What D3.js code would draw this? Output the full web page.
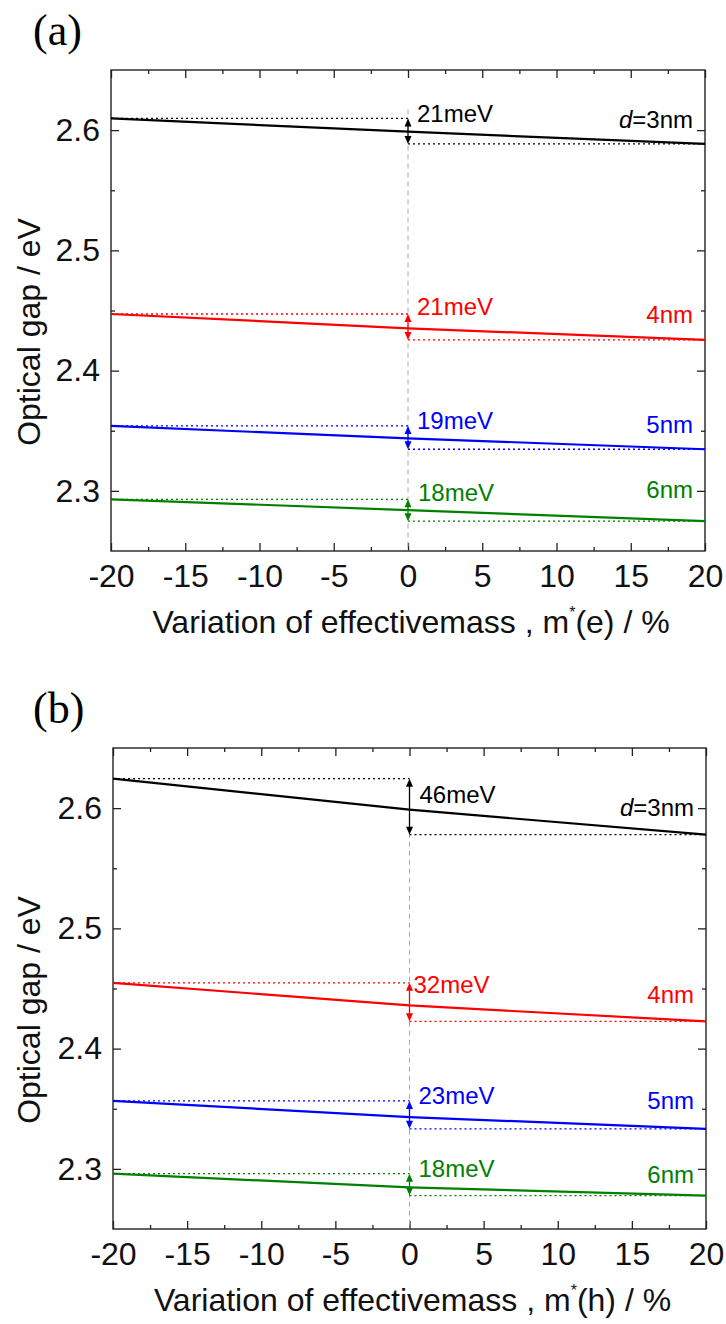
<!DOCTYPE html>
<html>
<head>
<meta charset="utf-8">
<script src="https://cdn.jsdelivr.net/npm/d3@7"></script>
<style>
  body { margin: 0; background: #fff; }
  svg text { font-family: "Liberation Sans", Arial, sans-serif; }
</style>
</head>
<body>
<svg id="chart" width="726" height="1324"></svg>
<script>
// Values: optical gap (eV) at -20 %, 0 %, +20 % mass variation.
const massVariation = [-20, 0, 20];
const sizeNames = ["3nm", "4nm", "5nm", "6nm"];

const gapElectron = [
    [2.6097, 2.5987, 2.5885],
    [2.4471, 2.4352, 2.4255],
    [2.3540, 2.3437, 2.3346],
    [2.2930, 2.2840, 2.2748]
];
const gapHole = [
    [2.6245, 2.5987, 2.5779],
    [2.4547, 2.4359, 2.4227],
    [2.3565, 2.3431, 2.3333],
    [2.2960, 2.2846, 2.2778]
];
const deltaElectron = ["21meV", "21meV", "19meV", "18meV"];
const deltaHole = ["46meV", "32meV", "23meV", "18meV"];

const xTicks = [-20, -15, -10, -5, 0, 5, 10, 15, 20];
const xMinorTicks = [-17.5, -12.5, -7.5, -2.5, 2.5, 7.5, 12.5, 17.5];
const yTicks = [2.3, 2.4, 2.5, 2.6];
const yMinorTicks = [2.35, 2.45, 2.55];

// Styles and hand placement of the annotations (pixels).
const lineColors = ["#000000", "#ff0000", "#0000ff", "#008000"];


const svg = d3.select("#chart");

drawPanel({
    letter: "(a)", carrier: "e",
    top: 70, bottom: 551, left: 111, right: 705,
    gaps: gapElectron, deltas: deltaElectron,
    sizeLift: [16, 17, 16, 23],
    deltaDrop: [4, 1, 3, 2],
    deltaShift: [9, 9, 9, 10],
    dashAbove: 9
});

drawPanel({
    letter: "(b)", carrier: "h",
    top: 748, bottom: 1229, left: 113, right: 706,
    gaps: gapHole, deltas: deltaHole,
    sizeLift: [19, 18, 20, 13],
    deltaDrop: [24, 10, 3, 3],
    deltaShift: [10, 4, 9, 9],
    dashAbove: 0
});


function drawPanel(p) {
    const xScale = d3.scaleLinear().domain([-20, 20]).range([p.left, p.right]);
    const yScale = d3.scaleLinear().domain([2.25, 2.65]).range([p.bottom, p.top]);
    const g = svg.append("g");

    // Panel letter
    svg.append("text")
        .attr("x", 33)
        .attr("y", p.top - 25)
        .style("font-family", "'Liberation Serif', 'Times New Roman', serif")
        .style("font-size", "44px")
        .text(p.letter);

    // Axes (inward ticks on all four sides)
    const addAxis = (axis, transform, isLabeled) => {
        const a = g.append("g").attr("transform", transform).call(axis);
        a.select(".domain").remove();
        a.selectAll(".tick line").attr("stroke", "#222").attr("stroke-width", 1.3);
        if (!isLabeled) a.selectAll(".tick text").remove();
        return a;
    };

    const bottomAxis = addAxis(d3.axisBottom(xScale).tickValues(xTicks).tickSize(-8).tickPadding(13)
        .tickFormat(d => String(d)), `translate(0,${p.bottom})`, true);
    addAxis(d3.axisBottom(xScale).tickValues(xMinorTicks).tickSize(-4), `translate(0,${p.bottom})`, false);
    addAxis(d3.axisTop(xScale).tickValues(xTicks).tickSize(-8), `translate(0,${p.top})`, false);
    addAxis(d3.axisTop(xScale).tickValues(xMinorTicks).tickSize(-4), `translate(0,${p.top})`, false);

    const leftAxis = addAxis(d3.axisLeft(yScale).tickValues(yTicks).tickSize(-8).tickPadding(11)
        .tickFormat(d3.format(".1f")), `translate(${p.left},0)`, true);
    addAxis(d3.axisLeft(yScale).tickValues(yMinorTicks).tickSize(-4), `translate(${p.left},0)`, false);
    addAxis(d3.axisRight(yScale).tickValues(yTicks).tickSize(-8), `translate(${p.right},0)`, false);
    addAxis(d3.axisRight(yScale).tickValues(yMinorTicks).tickSize(-4), `translate(${p.right},0)`, false);

    [bottomAxis, leftAxis].forEach(a => a.selectAll(".tick text")
        .attr("fill", "#111")
        .style("font-family", "'Liberation Sans', Arial, sans-serif")
        .style("font-size", "32px"));

    g.append("rect")
        .attr("x", p.left).attr("y", p.top)
        .attr("width", p.right - p.left).attr("height", p.bottom - p.top)
        .attr("fill", "none").attr("stroke", "#222").attr("stroke-width", 1.4);

    // Axis titles
    const xTitle = svg.append("text")
        .attr("x", (p.left + p.right) / 2 + 3)
        .attr("y", p.bottom + 82)
        .attr("text-anchor", "middle")
        .attr("fill", "#111")
        .style("font-size", "32px");
    xTitle.append("tspan").text("Variation of effectivemass , m");
    xTitle.append("tspan").attr("dy", -15).style("font-size", "16px").text("*");
    xTitle.append("tspan").attr("dy", 15).text(`(${p.carrier}) / %`);

    svg.append("text")
        .attr("transform", `translate(40,${p.top + 262}) rotate(-90)`)
        .attr("text-anchor", "middle")
        .attr("fill", "#111")
        .style("font-size", "32px")
        .text("Optical gap / eV");

    // Gray dashed guide at 0 %
    const topGap = p.gaps[0][0];
    g.append("line")
        .attr("x1", xScale(0)).attr("x2", xScale(0))
        .attr("y1", yScale(topGap) - p.dashAbove).attr("y2", p.bottom)
        .attr("stroke", "#aaa").attr("stroke-width", 1)
        .attr("stroke-dasharray", "5,4");

    const line = d3.line()
        .x((d, i) => xScale(massVariation[i]))
        .y(d => yScale(d));

    p.gaps.forEach((values, k) => {
        const color = lineColors[k];
        const first = values[0];
        const last = values[values.length - 1];

        // Reference levels (dotted)
        g.append("line")
            .attr("x1", xScale(-20)).attr("x2", xScale(0))
            .attr("y1", yScale(first)).attr("y2", yScale(first))
            .attr("stroke", color).attr("stroke-width", 1.3)
            .attr("stroke-dasharray", "2,3");
        g.append("line")
            .attr("x1", xScale(0)).attr("x2", xScale(20))
            .attr("y1", yScale(last)).attr("y2", yScale(last))
            .attr("stroke", color).attr("stroke-width", 1.3)
            .attr("stroke-dasharray", "2,3");

        // Gap curve
        g.append("path")
            .datum(values)
            .attr("d", line)
            .attr("fill", "none")
            .attr("stroke", color)
            .attr("stroke-width", 2.2);

        // Double-headed arrow
        const ax = xScale(0);
        const yTop = yScale(first);
        const yBot = yScale(last);
        g.append("line")
            .attr("x1", ax).attr("x2", ax)
            .attr("y1", yTop + 4).attr("y2", yBot - 4)
            .attr("stroke", color).attr("stroke-width", 1.3);
        g.append("path")
            .attr("d", `M${ax},${yTop} L${ax - 3.5},${yTop + 8} L${ax + 3.5},${yTop + 8} Z`)
            .attr("fill", color);
        g.append("path")
            .attr("d", `M${ax},${yBot} L${ax - 3.5},${yBot - 8} L${ax + 3.5},${yBot - 8} Z`)
            .attr("fill", color);

        // Shift label
        g.append("text")
            .attr("x", ax + p.deltaShift[k])
            .attr("y", yTop + p.deltaDrop[k])
            .attr("fill", color)
            .style("font-size", "24px")
            .text(p.deltas[k]);

        // Size label
        const sizeText = g.append("text")
            .attr("x", p.right - 12)
            .attr("y", yScale(last) - p.sizeLift[k])
            .attr("text-anchor", "end")
            .attr("fill", color)
            .style("font-size", "24px");
        if (k === 0) {
            sizeText.append("tspan").style("font-style", "italic").text("d");
            sizeText.append("tspan").text("=" + sizeNames[k]);
        } else {
            sizeText.text(sizeNames[k]);
        }
    });
}
</script>
</body>
</html>
